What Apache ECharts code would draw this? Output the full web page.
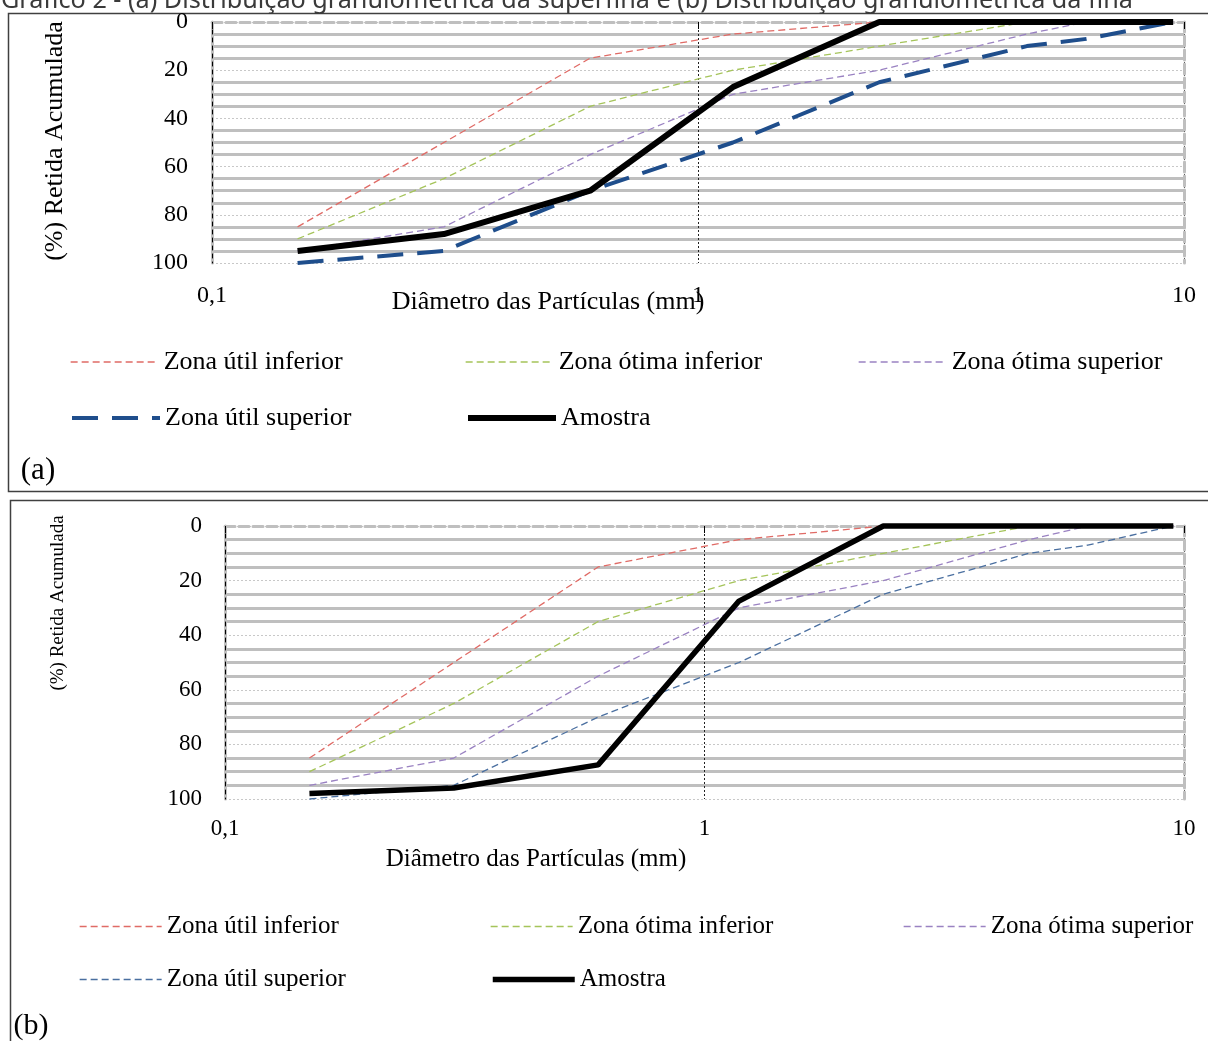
<!DOCTYPE html>
<html>
<head>
<meta charset="utf-8">
<script src="https://cdn.jsdelivr.net/npm/echarts@6/dist/echarts.min.js"></script>
<style>
  html, body { margin: 0; padding: 0; background: #fff; width: 1208px; height: 1041px; overflow: hidden; }
  #chartA { position: absolute; left: 0; top: 0; width: 1208px; height: 496px; }
  #chartB { position: absolute; left: 0; top: 496px; width: 1208px; height: 545px; }
</style>
</head>
<body>
<div id="chartA"></div>
<div id="chartB"></div>
<script>
// ---- Data (cumulative % retained vs sieve opening in mm) ----
const sieves = [0.15, 0.3, 0.6, 1.18, 2.36, 4.75, 6.3, 9.5];
const utilInferior   = [85, 50, 15, 5, 0, 0, 0, 0];
const otimaInferior  = [90, 65, 35, 20, 10, 0, 0, 0];
const otimaSuperior  = [95, 85, 55, 30, 20, 5, 0, 0];
const utilSuperior   = [100, 95, 70, 50, 25, 10, 7, 0];
const amostraSuperfina = [95, 88, 70, 27, 0, 0, 0, 0];
const amostraFina      = [98, 96, 87.5, 27.5, 0, 0, 0, 0];
const seriesNames = ['Zona útil inferior', 'Zona ótima inferior', 'Zona ótima superior', 'Zona útil superior', 'Amostra'];
const yTicks = [0, 20, 40, 60, 80, 100];
const xTicks = [0.1, 1, 10];
const xAxisName = 'Diâmetro das Partículas (mm)';
const yAxisName = '(%) Retida Acumulada';
const titleText = 'Gráfico 2 - (a) Distribuição granulométrica da superfina e (b) Distribuição granulométrica da fina';

const SERIF = '"Liberation Serif", "Times New Roman", serif';
const TITLE_FONT = '"Liberation Sans Narrow", "Noto Sans", sans-serif';
const GRAY = '#BFBFBF';

function zip(xs, ys) { return xs.map((x, i) => [x, ys[i]]); }

function fitFont(text, family, target) {
  const c = document.createElement('canvas').getContext('2d');
  c.font = '100px ' + family;
  return 100 * target / c.measureText(text).width;
}

function makeOption(p) {
  const g = p.grid;
  const axisLabelFmt = v => String(+(+v).toPrecision(3)).replace('.', ',');
  const common = { type: 'log', logBase: 10, min: xTicks[0], max: xTicks[xTicks.length - 1], splitNumber: 2 };
  const yCommon = { type: 'value', inverse: true, min: yTicks[0], max: yTicks[yTicks.length - 1], interval: 20 };
  const legendPos = p.legendPos;
  const styles = p.styles;
  const lists = [utilInferior, otimaInferior, otimaSuperior, utilSuperior, p.amostra];
  const series = seriesNames.map((n, i) => ({
    name: n, type: 'line', data: zip(sieves, lists[i]),
    symbol: 'none', showSymbol: false, clip: false, silent: true, animation: false,
    itemStyle: { color: styles[i].color },
    lineStyle: styles[i], z: 3 + i
  }));
  const legends = seriesNames.map((n, i) => ({
    data: [n], left: legendPos[i][0], top: legendPos[i][1], padding: 0,
    itemWidth: p.legendItemWidth, itemHeight: 14, selectedMode: false,
    textStyle: { fontFamily: SERIF, fontSize: p.legendFont, color: '#000' },
    itemStyle: { opacity: 0, color: 'rgba(0,0,0,0)', borderWidth: 0 },
    lineStyle: { width: styles[i].width }
  }));
  return {
    animation: false,
    backgroundColor: '#fff',
    grid: { left: g.left, top: g.top, width: g.width, height: g.height, containLabel: false },
    xAxis: [
      Object.assign({}, common, {
        position: 'bottom',
        axisLine: { show: true, lineStyle: { color: '#000', width: 1.3, type: [10, 4] } },
        axisTick: { show: true, length: 7, lineStyle: { color: '#000', width: 1 } },
        axisLabel: { formatter: axisLabelFmt, fontFamily: SERIF, fontSize: p.tickFont, color: '#000', margin: p.xLabelMargin },
        splitLine: { show: true, lineStyle: { color: '#222', width: 1, type: [2, 2] } },
        minorTick: { show: false }, minorSplitLine: { show: false }
      }),
      Object.assign({}, common, {
        position: 'top',
        axisLine: { show: true, lineStyle: { color: GRAY, width: 3, type: [10, 4] } },
        axisTick: { show: false }, axisLabel: { show: false }, splitLine: { show: false }
      })
    ],
    yAxis: [
      Object.assign({}, yCommon, {
        position: 'left',
        axisLine: { show: true, lineStyle: { color: GRAY, width: 3 } },
        axisTick: { show: false },
        axisLabel: { fontFamily: SERIF, fontSize: p.tickFont, color: '#000', margin: p.yLabelMargin },
        splitLine: { show: true, lineStyle: { color: '#C8C8C8', width: 1, type: [2, 2] } },
        minorTick: { show: false, splitNumber: 4 },
        minorSplitLine: { show: true, lineStyle: { color: GRAY, width: 3 } }
      }),
      Object.assign({}, yCommon, {
        position: 'right',
        axisLine: { show: true, lineStyle: { color: GRAY, width: 3, type: [10, 4] } },
        axisTick: { show: false }, axisLabel: { show: false }, splitLine: { show: false }
      }),
      Object.assign({}, yCommon, {
        position: 'left',
        axisLine: { show: true, lineStyle: { color: '#000', width: 1, type: [4, 4] } },
        axisTick: { show: false }, axisLabel: { show: false }, splitLine: { show: false }
      })
    ],
    legend: legends,
    series: series,
    graphic: p.graphic
  };
}

const thinDash = [7, 4];
const RED = '#E06B66', GREEN = '#A5C45A', PURPLE = '#9A82C2';

// ---- Panel (a) ----
const titleFs = fitFont(titleText, TITLE_FONT, 1132);
const chartA = echarts.init(document.getElementById('chartA'), null, { renderer: 'canvas' });
chartA.setOption(makeOption({
  grid: { left: 212, top: 22, width: 972, height: 241 },
  amostra: amostraSuperfina,
  tickFont: 24, legendFont: 26, xLabelMargin: 21, yLabelMargin: 24,
  legendItemWidth: 88,
  legendPos: [[70, 349], [465, 349], [858, 349], [70, 405], [465, 405]],
  styles: [
    { color: RED, width: 1.3, type: thinDash },
    { color: GREEN, width: 1.3, type: thinDash },
    { color: PURPLE, width: 1.3, type: thinDash },
    { color: '#1F4E8C', width: 4, type: [26, 14], cap: 'butt' },
    { color: '#000', width: 6, type: 'solid' }
  ],
  graphic: [
    { type: 'rect', silent: true, shape: { x: 8.5, y: 13.5, width: 1260, height: 478 }, style: { fill: null, stroke: '#404040', lineWidth: 1.5 }, z: -10 },
    { type: 'text', x: 1, y: 9 - 0.33 * titleFs, silent: true, style: { text: titleText, font: titleFs.toFixed(2) + 'px ' + TITLE_FONT, fill: '#3A3A3A', align: 'left', verticalAlign: 'middle' } },
    { type: 'text', x: 548, y: 302, silent: true, style: { text: xAxisName, font: '26px ' + SERIF, fill: '#000', align: 'center', verticalAlign: 'middle' } },
    { type: 'text', x: 55, y: 141, rotation: Math.PI / 2, silent: true, style: { text: yAxisName, font: '26px ' + SERIF, fill: '#000', align: 'center', verticalAlign: 'middle' } },
    { type: 'text', x: 38, y: 471, silent: true, style: { text: '(a)', font: '31px ' + SERIF, fill: '#000', align: 'center', verticalAlign: 'middle' } }
  ]
}));

// ---- Panel (b) ----
const chartB = echarts.init(document.getElementById('chartB'), null, { renderer: 'canvas' });
chartB.setOption(makeOption({
  grid: { left: 225, top: 30, width: 959, height: 273 },
  amostra: amostraFina,
  tickFont: 23, legendFont: 25, xLabelMargin: 18, yLabelMargin: 23,
  legendItemWidth: 82,
  legendPos: [[79, 418], [490, 418], [903, 418], [79, 471], [490, 471]],
  styles: [
    { color: RED, width: 1.3, type: thinDash },
    { color: GREEN, width: 1.3, type: thinDash },
    { color: PURPLE, width: 1.3, type: thinDash },
    { color: '#4A6FA0', width: 1.3, type: thinDash },
    { color: '#000', width: 5.5, type: 'solid' }
  ],
  graphic: [
    { type: 'rect', silent: true, shape: { x: 10.5, y: 4.5, width: 1260, height: 700 }, style: { fill: null, stroke: '#404040', lineWidth: 1.5 }, z: -10 },
    { type: 'text', x: 536, y: 363, silent: true, style: { text: xAxisName, font: '25px ' + SERIF, fill: '#000', align: 'center', verticalAlign: 'middle' } },
    { type: 'text', x: 58, y: 107, rotation: Math.PI / 2, silent: true, style: { text: yAxisName, font: '19px ' + SERIF, fill: '#000', align: 'center', verticalAlign: 'middle' } },
    { type: 'text', x: 31, y: 530, silent: true, style: { text: '(b)', font: '30px ' + SERIF, fill: '#000', align: 'center', verticalAlign: 'middle' } }
  ]
}));
</script>
</body>
</html>
